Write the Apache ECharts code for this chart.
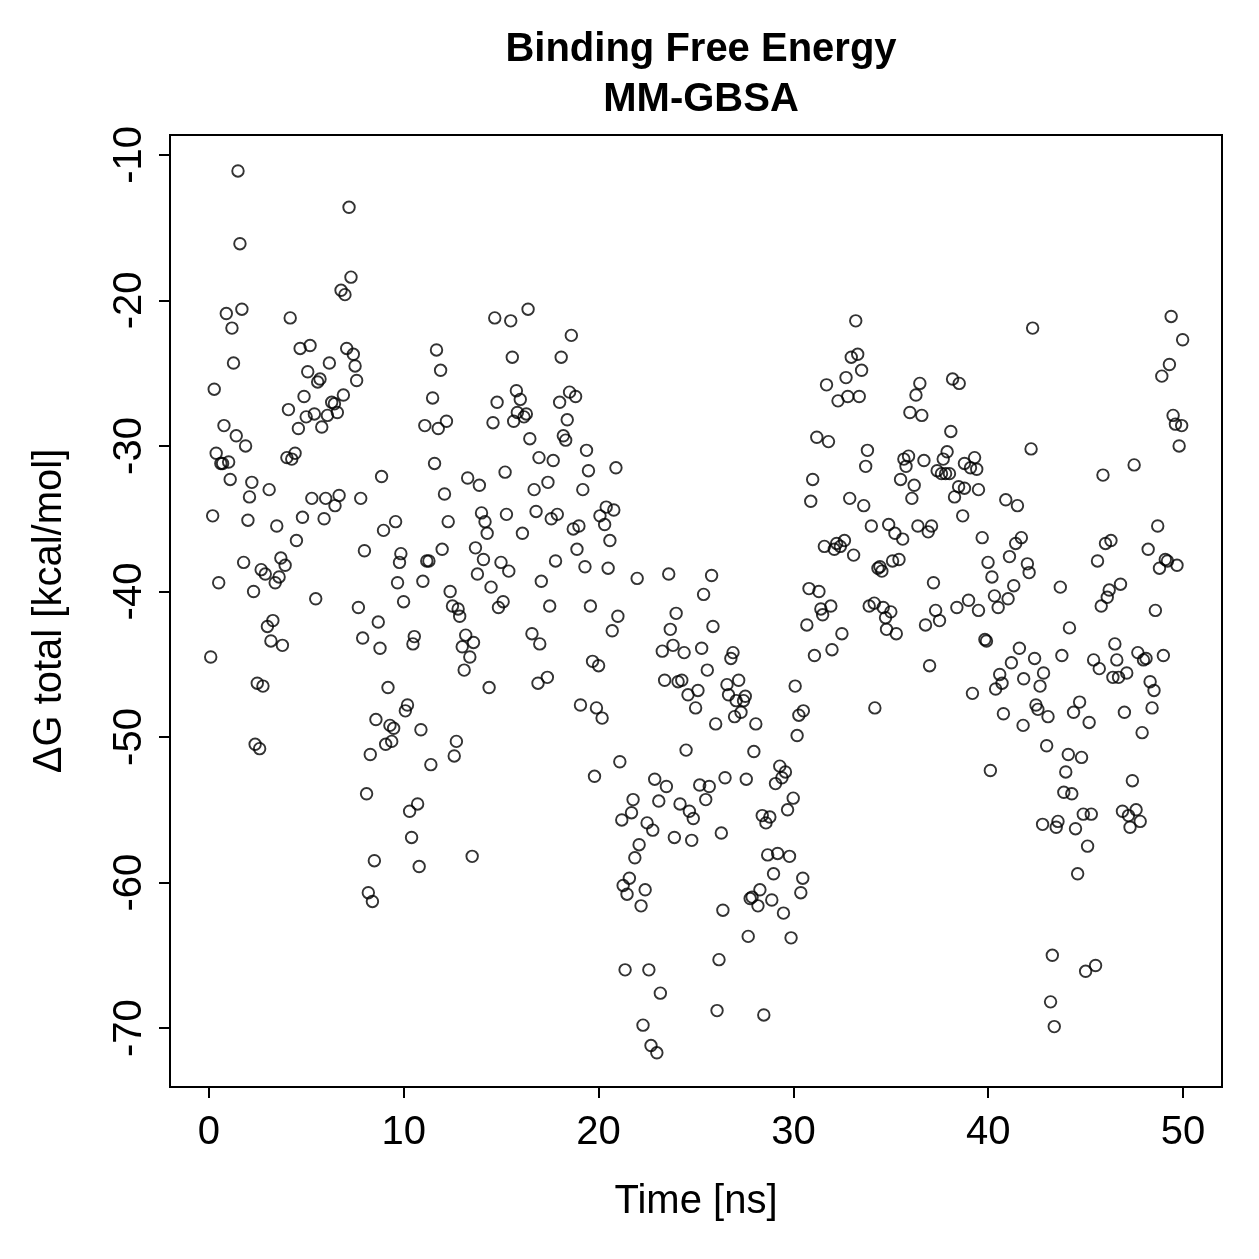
<!doctype html>
<html>
<head>
<meta charset="utf-8">
<title>Binding Free Energy MM-GBSA</title>
<script src="https://cdn.jsdelivr.net/npm/echarts@6/dist/echarts.min.js"></script>
<style>
  html, body { margin: 0; padding: 0; background: #fff; }
  #main { width: 1259px; height: 1259px; }
</style>
</head>
<body>
<div id="main"></div>
<script type="text/javascript">
// time [ns] of each frame and dG total [kcal/mol]
var timeNs = [
  1.49,7.19,1.59,7.29,6.78,6.98,1.69,0.89,1.18,4.17,14.67,15.49,16.38,1.26,4.68,5.19,7.07,7.41,7.50,7.58,
  6.18,5.07,5.70,5.58,0.27,4.88,6.90,6.30,6.44,4.08,6.59,4.99,5.41,6.08,4.59,5.79,0.77,1.40,1.88,0.37,
  0.61,1.01,0.70,4.00,4.42,4.25,1.09,2.20,2.08,3.09,0.19,2.00,3.48,4.80,5.28,5.99,6.68,6.47,5.91,7.79,
  4.49,1.78,2.68,2.89,3.69,3.91,3.60,3.40,0.50,2.29,5.48,7.67,7.98,8.86,8.96,9.58,9.85,9.78,9.68,9.99,
  10.98,11.18,11.29,11.97,12.38,12.50,12.79,11.68,11.89,11.48,11.08,11.77,12.19,11.58,12.09,12.28,13.28,13.88,13.99,14.17,
  14.28,13.68,14.09,13.78,14.48,14.99,15.39,15.10,14.86,15.27,15.20,16.09,16.69,16.79,16.94,17.06,15.57,15.78,15.98,15.83,
  15.64,16.17,16.29,14.79,14.58,16.47,
  8.69,7.89,8.78,10.54,10.47,12.87,13.18,13.58,13.00,13.39,13.10,14.38,16.58,16.98,16.89,17.37,3.28,3.00,3.18,3.77,
  0.09,2.48,2.77,2.37,2.60,9.19,10.19,10.08,8.57,9.29,9.48,9.07,9.38,8.28,10.88,12.70,12.59,11.39,8.09,10.71,
  10.30,10.40,8.49,10.79,13.51,8.18,8.39,
  18.60,18.08,18.51,18.82,18.00,18.39,18.19,18.31,19.38,17.67,20.89,19.48,17.40,19.19,17.88,17.57,20.39,20.78,20.07,20.31,
  18.99,18.70,20.58,18.89,17.79,19.30,20.49,21.98,23.60,25.80,25.39,17.49,19.58,33.20,32.97,33.30,33.50,32.70,31.70,32.29,
  32.79,33.38,31.20,31.80,33.80,33.71,30.99,30.89,32.89,33.61,34.00,31.59,32.10,32.22,32.41,32.62,33.09,34.34,34.44,34.54,
  30.80,31.31,31.41,31.92,33.89,34.15,34.61,
  20.99,20.70,23.98,23.68,25.87,23.27,23.82,24.39,25.29,26.90,26.79,19.69,20.00,25.58,23.39,24.08,24.27,25.10,24.59,24.98,
  26.59,27.19,26.67,27.06,27.53,27.44,27.31,26.98,26.01,28.07,19.07,19.89,20.18,30.09,30.69,31.08,31.98,32.49,31.50,34.18,
  30.51,30.28,30.19,24.49,27.97,21.09,19.79,22.88,23.48,25.19,25.68,26.49,27.58,29.30,29.59,29.41,29.08,29.99,29.70,21.77,
  21.69,21.19,23.09,22.49,22.78,24.18,24.66,24.86,25.50,23.89,24.78,26.30,28.40,28.79,28.59,22.08,21.86,21.58,21.26,21.46,
  22.39,22.18,28.68,29.19,29.80,28.98,30.48,30.38,26.38,28.28,27.88,27.78,28.18,28.89,29.49,27.68,29.88,26.18,21.36,22.58,
  23.17,26.08,28.48,22.28,22.69,22.99,
  42.28,49.39,49.98,49.30,48.91,49.49,49.61,49.93,49.80,42.20,47.49,45.89,36.49,36.29,35.98,36.59,38.17,38.51,38.08,37.89,
  35.91,35.67,35.78,36.70,37.69,37.38,37.60,37.81,38.01,38.78,39.30,39.09,39.41,35.50,36.20,36.08,38.48,38.78,39.50,38.27,
  40.90,41.50,38.69,34.89,35.21,35.61,36.39,36.92,37.09,39.69,35.09,35.42,37.19,39.99,40.19,41.09,41.41,41.70,42.01,42.10,
  41.31,43.70,41.02,40.32,40.51,38.99,38.39,39.50,37.30,45.61,46.02,46.30,48.21,48.70,48.79,49.09,49.20,49.69,46.79,46.21,
  46.11,45.80,48.58,
  35.00,34.73,34.78,35.28,37.50,36.78,44.17,39.83,39.91,36.99,41.60,42.38,43.78,41.19,40.59,40.71,40.38,39.19,41.82,42.84,
  42.66,42.45,42.55,43.07,40.78,41.79,45.41,45.70,46.50,46.60,47.11,46.40,46.69,47.68,47.97,48.10,48.99,48.31,48.51,48.41,
  47.90,46.99,44.69,44.38,45.18,43.00,40.11,44.11,44.79,43.98,43.88,44.29,47.40,44.88,45.29,46.89,47.59,47.20,47.80,47.28,
  42.79,43.58,43.49,44.48,45.10,44.59,43.29,45.51,45.00,43.20,43.39
];
var deltaG = [
  -11.1,-13.6,-16.1,-18.4,-19.3,-19.6,-20.6,-20.9,-21.9,-21.2,-21.2,-21.4,-20.6,-24.3,-23.3,-23.1,-23.3,-23.7,-24.5,-25.5,
  -24.3,-24.9,-25.4,-25.6,-26.1,-26.6,-26.5,-27.0,-27.1,-27.5,-27.7,-28.0,-27.8,-27.9,-28.8,-28.7,-28.6,-29.3,-30.0,-30.5,
  -31.2,-31.1,-31.2,-30.8,-30.5,-30.9,-32.3,-32.5,-33.5,-33.0,-34.8,-35.1,-35.5,-34.9,-33.6,-33.6,-33.4,-34.1,-35.0,-33.6,
  -36.5,-38.0,-38.5,-38.8,-37.7,-38.2,-39.0,-39.4,-39.4,-40.0,-40.5,-41.1,-37.2,-32.1,-35.8,-35.2,-37.4,-38.0,-39.4,-40.7,
  -39.3,-37.9,-37.9,-37.1,-40.0,-41.0,-41.2,-23.4,-24.8,-26.7,-28.6,-28.8,-28.3,-31.2,-33.3,-35.2,-32.2,-32.7,-34.6,-35.2,
  -36.0,-37.0,-37.8,-38.8,-39.7,-38.0,-38.6,-40.7,-41.1,-34.7,-31.8,-36.0,-33.0,-34.5,-30.8,-39.3,-23.9,-26.2,-26.8,-27.7,
  -28.3,-28.0,-27.8,-27.0,-28.4,-29.5,
  -42.1,-43.2,-43.9,-43.1,-43.6,-41.7,-43.0,-43.5,-43.8,-44.5,-45.4,-46.6,-42.9,-43.6,-46.3,-45.9,-42.0,-42.4,-43.4,-43.7,
  -44.5,-46.3,-46.5,-50.5,-50.8,-46.6,-47.8,-48.2,-48.8,-49.2,-49.4,-50.5,-50.3,-51.2,-49.5,-50.3,-51.3,-51.9,-53.9,-54.6,
  -55.1,-56.9,-58.5,-58.9,-58.2,-60.7,-61.3,
  -22.4,-23.9,-26.3,-26.6,-27.0,-28.2,-29.3,-29.6,-30.3,-31.0,-31.5,-31.7,-32.5,-33.0,-34.7,-35.0,-34.2,-34.4,-34.8,-35.4,
  -35.5,-35.7,-36.5,-37.1,-37.9,-38.3,-38.4,-39.1,-38.8,-38.9,-40.2,-41.0,-41.0,-21.4,-23.9,-23.7,-24.8,-25.3,-25.8,-26.9,
  -26.6,-26.6,-29.4,-29.7,-30.3,-31.4,-32.3,-33.8,-33.6,-34.1,-35.5,-36.9,-37.1,-36.7,-36.9,-36.5,-37.5,-38.4,-38.3,-38.6,
  -39.8,-40.0,-41.2,-41.0,-41.0,-40.8,-41.1,
  -41.7,-42.7,-41.5,-42.6,-42.4,-44.1,-43.7,-44.2,-43.9,-44.2,-44.6,-44.8,-45.1,-45.4,-46.1,-46.2,-46.1,-46.8,-47.1,-48.0,
  -46.4,-46.1,-47.1,-47.5,-47.2,-47.5,-48.3,-48.6,-49.1,-49.1,-47.8,-48.0,-48.7,-46.5,-42.3,-44.4,-44.0,-42.9,-41.6,-48.0,
  -48.2,-48.5,-49.9,-50.9,-51.0,-51.7,-52.7,-52.9,-53.4,-53.3,-53.4,-52.8,-52.9,-52.0,-52.4,-52.8,-53.2,-54.2,-55.0,-54.3,
  -55.2,-55.7,-54.4,-55.9,-56.4,-54.6,-55.1,-55.6,-54.3,-56.9,-57.1,-56.6,-55.4,-55.5,-55.9,-57.4,-58.3,-59.7,-60.2,-60.8,
  -60.5,-61.6,-58.1,-58.0,-58.2,-59.4,-59.7,-60.7,-61.9,-60.5,-61.0,-61.1,-61.6,-61.2,-62.1,-63.7,-63.8,-65.3,-66.0,-66.0,
  -67.6,-68.8,-69.1,-69.8,-71.2,-71.7,
  -21.9,-21.1,-22.7,-24.4,-25.2,-27.9,-28.5,-28.6,-30.0,-30.2,-31.3,-32.0,-25.7,-26.5,-27.7,-27.9,-25.4,-25.7,-29.0,-30.4,
  -30.7,-30.9,-31.4,-31.0,-30.9,-31.7,-31.9,-31.9,-31.9,-31.2,-30.8,-31.5,-31.6,-32.3,-32.7,-33.6,-32.8,-32.9,-33.0,-33.5,
  -33.7,-34.1,-34.8,-35.4,-36.0,-36.4,-35.5,-35.9,-35.5,-36.3,-37.9,-37.8,-39.4,-38.0,-39.0,-37.6,-36.7,-36.3,-38.1,-38.7,
  -39.6,-39.7,-40.5,-40.3,-41.1,-40.6,-41.1,-41.3,-41.3,-37.9,-36.7,-36.5,-37.1,-35.5,-38.4,-37.8,-37.9,-38.2,-39.5,-39.9,
  -40.4,-41.0,-41.3,
  -41.4,-41.8,-42.6,-42.9,-42.0,-42.3,-42.5,-43.3,-43.4,-45.1,-43.9,-44.6,-44.4,-44.9,-45.7,-46.3,-46.7,-47.0,-46.0,-45.6,
  -46.5,-47.8,-48.1,-48.6,-48.4,-49.2,-44.7,-45.3,-43.6,-44.7,-45.6,-45.9,-45.9,-44.2,-44.7,-44.6,-44.4,-46.2,-46.8,-48.0,
  -49.7,-48.3,-47.6,-48.3,-49.0,-50.6,-52.3,-51.2,-51.4,-52.4,-53.8,-53.9,-53.0,-55.3,-55.3,-55.1,-55.0,-55.4,-55.8,-56.2,
  -56.0,-55.8,-56.2,-56.3,-57.5,-59.4,-65.0,-65.7,-66.1,-68.2,-69.9
];
var xTicks = [0, 10, 20, 30, 40, 50];
var yTicks = [-70, -60, -50, -40, -30, -20, -10];

var points = [];
for (var i = 0; i < timeNs.length; i++) {
  points.push([timeNs[i], deltaG[i]]);
}

var font = "'Liberation Sans', Arial, Helvetica, sans-serif";
var myChart = echarts.init(document.getElementById('main'));

var option = {
  backgroundColor: '#ffffff',
  animation: false,
  title: {
    text: 'Binding Free Energy\nMM-GBSA',
    left: 696,
    top: 20,
    textAlign: 'center',
    textStyle: {
      fontFamily: font,
      fontWeight: 'bold',
      fontSize: 40,
      lineHeight: 50,
      color: '#000'
    }
  },
  grid: {
    left: 170,
    right: 37,
    top: 135,
    bottom: 172,
    show: true,
    borderColor: '#000',
    borderWidth: 2,
    backgroundColor: 'transparent'
  },
  xAxis: {
    type: 'value',
    min: -2,
    max: 52,
    name: 'Time [ns]',
    nameLocation: 'middle',
    nameGap: 95,
    nameTextStyle: { fontFamily: font, fontSize: 40, color: '#000' },
    axisLine: { show: false, onZero: false },
    splitLine: { show: false },
    axisTick: {
      show: true,
      length: 11,
      customValues: xTicks,
      lineStyle: { color: '#000', width: 2 }
    },
    axisLabel: {
      customValues: xTicks,
      margin: 26,
      fontFamily: font,
      fontSize: 40,
      color: '#000'
    }
  },
  yAxis: {
    type: 'value',
    min: -74.05,
    max: -8.63,
    name: 'ΔG total [kcal/mol]',
    nameLocation: 'middle',
    nameGap: 100,
    nameTextStyle: { fontFamily: font, fontSize: 40, color: '#000' },
    axisLine: { show: false, onZero: false },
    splitLine: { show: false },
    axisTick: {
      show: true,
      length: 11,
      customValues: yTicks,
      lineStyle: { color: '#000', width: 2 }
    },
    axisLabel: {
      customValues: yTicks,
      rotate: 90,
      margin: 20,
      fontFamily: font,
      fontSize: 40,
      color: '#000'
    }
  },
  series: [{
    type: 'scatter',
    data: points,
    symbol: 'circle',
    symbolSize: 11.5,
    itemStyle: {
      color: 'rgba(0,0,0,0)',
      borderColor: '#000',
      borderWidth: 1.9
    }
  }]
};

myChart.setOption(option);
</script>
</body>
</html>
